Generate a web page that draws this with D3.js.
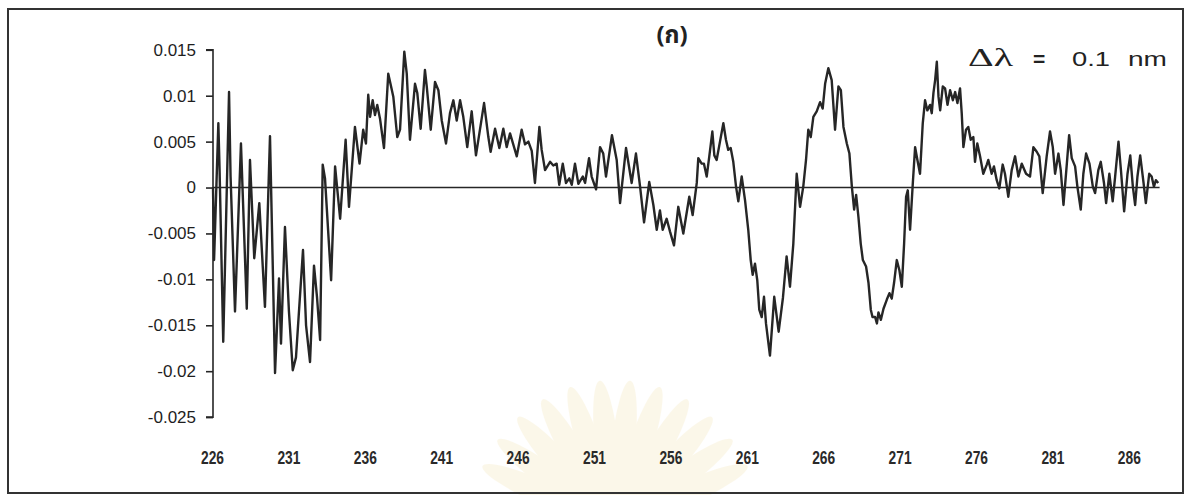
<!DOCTYPE html>
<html>
<head>
<meta charset="utf-8">
<script src="https://cdn.jsdelivr.net/npm/d3@7/dist/d3.min.js"></script>
<style>
  html, body { margin: 0; padding: 0; background: #fff; }
  svg { display: block; }
  .ylab { font-family: "Liberation Sans", Arial, sans-serif; font-size: 17px; fill: #1e1e1e; }
  .xlab { font-family: "Liberation Sans", Arial, sans-serif; font-size: 18px; font-weight: bold; fill: #2a2a2a; }
  .title { font-family: "Noto Sans Thai", "Noto Sans", "DejaVu Sans", sans-serif; font-size: 24px; font-weight: bold; fill: #222; }
  .note { font-family: "Liberation Sans", Arial, sans-serif; font-size: 21px; fill: #222; }
  .greek { font-family: "Liberation Serif", "DejaVu Serif", serif; font-size: 25px; }
</style>
</head>
<body>
<svg id="chart" width="1190" height="495"></svg>
<script>
// First-derivative spectrum, sampling interval 0.1 nm
const wavelength = [
  226.00,226.07,226.35,226.43,226.67,227.05,227.15,227.44,227.83,228.21,
  228.42,228.70,229.03,229.40,229.73,230.06,230.32,230.45,230.71,230.97,
  231.22,231.43,231.89,232.09,232.35,232.61,232.81,233.01,233.18,233.33,
  233.73,233.99,234.32,234.68,234.90,235.29,235.59,235.83,236.01,236.16,
  236.28,236.45,236.60,236.75,236.93,237.19,237.47,237.63,237.80,238.06,
  238.24,238.52,238.68,238.89,239.22,239.37,239.59,239.87,239.99,240.25,
  240.53,240.75,240.97,241.25,241.51,241.73,241.95,242.17,242.38,242.64,
  242.93,243.21,243.74,244.02,244.17,244.46,244.74,245.00,245.22,245.44,
  245.88,246.20,246.42,246.64,246.86,247.07,247.36,247.51,247.73,248.06,
  248.27,248.49,248.66,248.89,249.10,249.32,249.48,249.69,249.91,250.20,
  250.35,250.61,250.78,251.07,251.33,251.54,251.72,252.11,252.42,252.64,
  253.03,253.40,253.68,253.95,254.21,254.55,254.82,255.04,255.25,255.43,
  255.69,255.91,256.17,256.45,256.78,257.17,257.39,257.66,257.76,257.98,
  258.13,258.31,258.48,258.68,258.81,258.96,259.18,259.40,259.57,259.72,
  259.88,260.05,260.23,260.38,260.60,260.82,261.03,261.19,261.32,261.47,
  261.62,261.75,261.91,262.06,262.19,262.45,262.73,263.02,263.30,263.54,
  263.76,263.98,264.20,264.42,264.63,264.81,264.96,265.12,265.29,265.51,
  265.73,265.90,266.06,266.27,266.49,266.71,266.93,267.09,267.26,267.48,
  267.65,267.81,267.96,268.09,268.24,268.39,268.53,268.74,268.90,269.05,
  269.16,269.33,269.45,269.55,269.71,269.88,270.10,270.27,270.42,270.57,
  270.75,270.92,271.08,271.23,271.36,271.47,271.62,271.80,271.95,272.10,
  272.27,272.45,272.60,272.75,272.93,273.04,273.15,273.26,273.37,273.48,
  273.59,273.76,273.91,274.07,274.24,274.42,274.57,274.72,274.89,275.00,
  275.11,275.28,275.43,275.59,275.76,275.87,276.02,276.20,276.41,276.64,
  276.74,276.96,277.11,277.29,277.46,277.68,277.83,278.05,278.27,278.49,
  278.71,278.93,279.21,279.47,279.69,279.91,280.08,280.30,280.56,280.78,
  280.96,281.11,281.33,281.48,281.66,281.88,282.03,282.20,282.42,282.57,
  282.79,282.96,283.14,283.36,283.58,283.73,283.94,284.10,284.31,284.45,
  284.66,284.88,285.04,285.26,285.42,285.63,285.85,286.03,286.20,286.35,
  286.50,286.68,286.90,287.05,287.27,287.43,287.58,287.71,287.86
];

const derivative = [
   0.0000,-0.0079, 0.0070, 0.0020,-0.0168, 0.0104, 0.0012,-0.0135, 0.0048,-0.0132,
   0.0030,-0.0077,-0.0017,-0.0130, 0.0056,-0.0202,-0.0099,-0.0170,-0.0043,-0.0135,
  -0.0199,-0.0185,-0.0068,-0.0150,-0.0190,-0.0085,-0.0120,-0.0166, 0.0025, 0.0010,
  -0.0101, 0.0023,-0.0034, 0.0052,-0.0021, 0.0066, 0.0026, 0.0063, 0.0048, 0.0101,
   0.0077, 0.0095, 0.0079, 0.0090, 0.0075, 0.0043, 0.0124, 0.0112, 0.0099, 0.0055,
   0.0063, 0.0148, 0.0124, 0.0052, 0.0113, 0.0103, 0.0064, 0.0128, 0.0110, 0.0063,
   0.0115, 0.0106, 0.0073, 0.0048, 0.0081, 0.0095, 0.0073, 0.0095, 0.0077, 0.0044,
   0.0083, 0.0035, 0.0092, 0.0055, 0.0039, 0.0064, 0.0043, 0.0064, 0.0044, 0.0059,
   0.0034, 0.0063, 0.0047, 0.0050, 0.0040, 0.0005, 0.0066, 0.0041, 0.0019, 0.0028,
   0.0024, 0.0026, 0.0003, 0.0026, 0.0005, 0.0010, 0.0003, 0.0026, 0.0004, 0.0012,
   0.0005, 0.0032, 0.0012,-0.0002, 0.0044, 0.0037, 0.0012, 0.0057, 0.0030,-0.0017,
   0.0043, 0.0005, 0.0037, 0.0001,-0.0038, 0.0006,-0.0019,-0.0046,-0.0025,-0.0046,
  -0.0034,-0.0048,-0.0063,-0.0021,-0.0050,-0.0010,-0.0030, 0.0005, 0.0032, 0.0026,
   0.0026, 0.0012, 0.0034, 0.0061, 0.0035, 0.0030, 0.0050, 0.0070, 0.0052, 0.0041,
   0.0043, 0.0028, 0.0001,-0.0015, 0.0012,-0.0014,-0.0046,-0.0079,-0.0095,-0.0083,
  -0.0101,-0.0133,-0.0141,-0.0119,-0.0148,-0.0183,-0.0119,-0.0157,-0.0120,-0.0075,
  -0.0108,-0.0061, 0.0015,-0.0021, 0.0001, 0.0030, 0.0063, 0.0055, 0.0077, 0.0083,
   0.0093, 0.0086, 0.0113, 0.0130, 0.0117, 0.0063, 0.0110, 0.0106, 0.0066, 0.0048,
   0.0037, 0.0001,-0.0024,-0.0008,-0.0032,-0.0061,-0.0079,-0.0086,-0.0104,-0.0133,
  -0.0141,-0.0141,-0.0148,-0.0136,-0.0144,-0.0132,-0.0122,-0.0115,-0.0121,-0.0104,
  -0.0079,-0.0090,-0.0108,-0.0061,-0.0010,-0.0003,-0.0046, 0.0005, 0.0044, 0.0030,
   0.0015, 0.0070, 0.0095, 0.0084, 0.0090, 0.0081, 0.0103, 0.0117, 0.0137, 0.0099,
   0.0084, 0.0110, 0.0108, 0.0090, 0.0106, 0.0095, 0.0104, 0.0092, 0.0108, 0.0081,
   0.0044, 0.0063, 0.0066, 0.0052, 0.0055, 0.0028, 0.0048, 0.0034, 0.0015, 0.0025,
   0.0030, 0.0015, 0.0023, 0.0008,-0.0001, 0.0025, 0.0015,-0.0010, 0.0019, 0.0034,
   0.0012, 0.0026, 0.0015, 0.0012, 0.0044, 0.0039, 0.0034,-0.0006, 0.0034, 0.0061,
   0.0044, 0.0015, 0.0037, 0.0019,-0.0019, 0.0026, 0.0057, 0.0032, 0.0023, 0.0001,
  -0.0024, 0.0015, 0.0037, 0.0026, 0.0001,-0.0006, 0.0019, 0.0028, 0.0005,-0.0017,
   0.0015,-0.0015, 0.0012, 0.0050, 0.0019,-0.0026, 0.0015, 0.0035, 0.0001,-0.0019,
   0.0012, 0.0035, 0.0005,-0.0017, 0.0015, 0.0012, 0.0001, 0.0008, 0.0005
];

const xTicks = [226, 231, 236, 241, 246, 251, 256, 261, 266, 271, 276, 281, 286];
const yTicks = [0.015, 0.01, 0.005, 0, -0.005, -0.01, -0.015, -0.02, -0.025];
const yTickLabels = ["0.015", "0.01", "0.005", "0", "-0.005", "-0.01", "-0.015", "-0.02", "-0.025"];

const svg = d3.select("#chart");
const ink = "#262626";

// faint emblem printed on the page behind the chart
const emblem = svg.append("g").attr("transform", "translate(615,525)").attr("opacity", 0.13);
d3.range(-66, 67, 12).forEach(a => {
  emblem.append("ellipse")
    .attr("cx", 0).attr("cy", -75).attr("rx", 12).attr("ry", 70)
    .attr("fill", "#e8c860")
    .attr("transform", `rotate(${a})`);
});

// page frame
svg.append("rect")
  .attr("x", 8).attr("y", 9).attr("width", 1175).attr("height", 484)
  .attr("fill", "none").attr("stroke", "#333").attr("stroke-width", 2);

const x = d3.scaleLinear().domain([226, 288]).range([213, 213 + 62 * 15.28]);
const y = d3.scaleLinear().domain([-0.025, 0.015]).range([417.1, 49.8]);

// value axis
const yAxis = d3.axisLeft(y)
  .tickValues(yTicks)
  .tickSize(7)
  .tickPadding(10)
  .tickFormat((d, i) => yTickLabels[i]);
const gy = svg.append("g").attr("transform", `translate(${x(226)},0)`).call(yAxis);
gy.select(".domain").attr("stroke", ink).attr("stroke-width", 1.6).attr("d", `M-7,${y(0.015)}H0V${y(-0.025)}H-7`);
gy.selectAll(".tick line").attr("stroke", ink).attr("stroke-width", 1.6);
gy.selectAll(".tick text").attr("class", "ylab").attr("font-family", null).attr("font-size", null).attr("fill", null);

// zero line (category axis)
svg.append("line")
  .attr("x1", x(226)).attr("x2", x(287.95))
  .attr("y1", y(0)).attr("y2", y(0))
  .attr("stroke", ink).attr("stroke-width", 1.6);

// wavelength labels at the bottom
const xAxis = d3.axisBottom(x).tickValues(xTicks).tickSize(0).tickPadding(0).tickFormat(d3.format("d"));
const gx = svg.append("g").attr("transform", "translate(-1,451)").call(xAxis);
gx.select(".domain").remove();
gx.selectAll(".tick text")
  .attr("class", "xlab").attr("font-family", null).attr("font-size", null).attr("fill", null)
  .attr("dy", "0.71em")
  .attr("textLength", 23).attr("lengthAdjust", "spacingAndGlyphs");

// spectrum trace
const pts = wavelength.map((w, i) => [w, derivative[i]]);
svg.append("path")
  .datum(pts)
  .attr("fill", "none")
  .attr("stroke", ink)
  .attr("stroke-width", 2.4)
  .attr("stroke-linejoin", "round")
  .attr("d", d3.line().x(d => x(d[0])).y(d => y(d[1])));

// panel label
svg.append("text").attr("class", "title")
  .attr("x", 672).attr("y", 43).attr("text-anchor", "middle")
  .text("(ก)");

// sampling interval note
const note = svg.append("text").attr("class", "note").attr("y", 66);
note.append("tspan").attr("class", "greek").attr("x", 968).attr("textLength", 45).attr("lengthAdjust", "spacingAndGlyphs").text("Δλ");
note.append("tspan").attr("x", 1033).attr("font-weight", "bold").text("=");
note.append("tspan").attr("x", 1072).attr("textLength", 38).attr("lengthAdjust", "spacingAndGlyphs").text("0.1");
note.append("tspan").attr("x", 1128).attr("textLength", 39).attr("lengthAdjust", "spacingAndGlyphs").text("nm");
</script>
</body>
</html>
